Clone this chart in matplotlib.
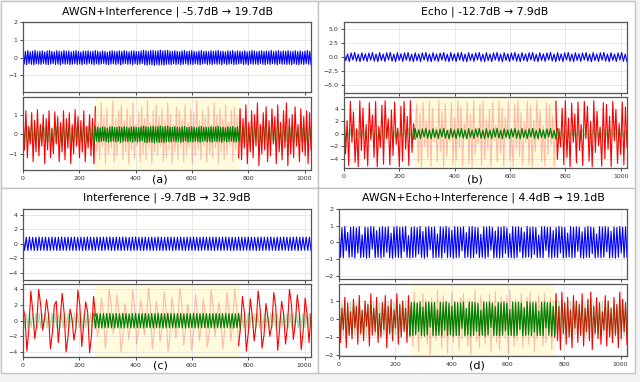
import numpy as np
import matplotlib
matplotlib.use('Agg')
import matplotlib.pyplot as plt
from matplotlib.patches import Rectangle

W, H = 640, 382

titles = ['AWGN+Interference | -5.7dB → 19.7dB', 'Echo | -12.7dB → 7.9dB',
          'Interference | -9.7dB → 32.9dB', 'AWGN+Echo+Interference | 4.4dB → 19.1dB']
labels = ['(a)', '(b)', '(c)', '(d)']
x_ticks = [0, 200, 400, 600, 800, 1000]
n_samples = 1024
span_lo, span_hi = 256, 768

# ---- signal extremes (peaks / troughs) ----
a_clean_hi = [0.38,0.35,0.40,0.33,0.37,0.41,0.34,0.36,0.39,0.32,
              0.38,0.40,0.35,0.33,0.39,0.37,0.34,0.41,0.36,0.38,
              0.33,0.37,0.40,0.35,0.32,0.38,0.36,0.39,0.34,0.37,
              0.40,0.36,0.33,0.38,0.35,0.31,0.37,0.39,0.34,0.36,
              0.38,0.35,0.40,0.36,0.33,0.37,0.39,0.35,0.34,0.38,
              0.42,0.39,0.36,0.40,0.41,0.37,0.39,0.42,0.38,0.40,
              0.41,0.37,0.35,0.39,0.36,0.34,0.38,0.40,0.35,0.37,
              0.39,0.36,0.33,0.38,0.40,0.35,0.37,0.34,0.39,0.36,
              0.38,0.41,0.35,0.37,0.33,0.39,0.36,0.40,0.34,0.38,
              0.37,0.35,0.39,0.33,0.36,0.40,0.38,0.34,0.37,0.39,
              0.35,0.38,0.36,0.41,0.34,0.37,0.39,0.35,0.38,0.36,
              0.40,0.34,0.37,0.39,0.35,0.38,0.33,0.37,0.40,0.36]
a_clean_lo = [-0.36,-0.40,-0.34,-0.38,-0.41,-0.35,-0.37,-0.39,-0.33,-0.38,
              -0.40,-0.36,-0.34,-0.39,-0.37,-0.41,-0.35,-0.38,-0.36,-0.40,
              -0.37,-0.34,-0.39,-0.36,-0.41,-0.35,-0.38,-0.33,-0.37,-0.40,
              -0.35,-0.39,-0.36,-0.34,-0.38,-0.40,-0.37,-0.35,-0.39,-0.36,
              -0.41,-0.37,-0.34,-0.38,-0.36,-0.40,-0.35,-0.39,-0.37,-0.33,
              -0.40,-0.43,-0.38,-0.41,-0.44,-0.39,-0.42,-0.40,-0.43,-0.38,
              -0.37,-0.40,-0.35,-0.39,-0.36,-0.41,-0.38,-0.34,-0.40,-0.37,
              -0.39,-0.35,-0.38,-0.41,-0.36,-0.34,-0.39,-0.37,-0.40,-0.35,
              -0.38,-0.36,-0.41,-0.34,-0.39,-0.37,-0.35,-0.40,-0.38,-0.36,
              -0.34,-0.39,-0.37,-0.41,-0.35,-0.38,-0.36,-0.40,-0.33,-0.38,
              -0.40,-0.36,-0.39,-0.34,-0.37,-0.41,-0.35,-0.38,-0.36,-0.39,
              -0.37,-0.40,-0.35,-0.38,-0.41,-0.36,-0.39,-0.34,-0.37,-0.40]
a_noisy_hi = [0.9,1.2,0.4,1.1,0.7,1.25,0.5,1.0,0.8,1.2,0.3,1.15,0.9,0.6,1.2,0.8,1.1,0.5,1.25,0.9,0.7,1.2,0.4,1.0,0.8,
              1.4,0.6,1.6,0.9,1.3,0.5,1.7,0.8,1.2,1.5,0.7,1.3,0.9,1.6,0.5,1.1,1.4,0.8,1.7,0.6,1.2,1.5,0.9,1.3,0.7,
              1.6,1.0,0.5,1.4,1.2,0.8,1.5,0.6,1.3,1.1,1.7,0.7,1.2,0.9,1.4,0.5,1.6,1.0,1.3,0.8,1.5,0.6,1.2,1.4,0.9,
              1.3,0.8,1.5,0.6,1.2,1.0,1.6,0.5,1.1,1.4,0.7,1.3,0.9,1.5,0.6,1.2,1.6,0.8,1.0,1.4,0.5,1.3,0.9,1.2,1.1]
a_noisy_lo = [-0.8,-1.2,-0.5,-1.4,-0.9,-1.1,-0.6,-1.5,-0.8,-1.2,-1.0,-0.5,-1.4,-0.9,-1.3,-0.7,-1.5,-1.0,-0.6,-1.2,-0.9,-1.4,-0.7,-1.1,-1.5,
              -0.9,-1.3,-0.6,-1.5,-1.0,-0.7,-1.4,-1.1,-0.5,-1.3,-0.9,-1.5,-0.8,-1.2,-0.6,-1.4,-1.0,-1.3,-0.7,-1.5,-0.9,-1.1,-0.6,-1.4,-1.2,
              -0.8,-1.5,-0.9,-1.3,-0.6,-1.4,-1.0,-0.7,-1.5,-1.1,-0.8,-1.3,-0.6,-1.4,-1.0,-1.2,-0.7,-1.5,-0.9,-1.3,-1.0,-0.6,-1.4,-0.8,-1.2,
              -1.3,-0.7,-1.5,-0.9,-1.2,-0.6,-1.6,-1.0,-0.8,-1.4,-1.1,-0.5,-1.5,-0.9,-1.3,-0.7,-1.6,-1.0,-1.2,-0.6,-1.4,-0.9,-1.1,-1.5,-0.8]

b_clean_hi = [0.82,0.60,0.78,0.85,0.55,0.80,0.62,0.76,0.84,0.57,
              0.83,0.58,0.79,0.86,0.54,0.81,0.63,0.77,0.85,0.56,
              0.80,0.61,0.78,0.84,0.58,0.82,0.59,0.75,0.86,0.55,
              0.83,0.62,0.79,0.85,0.57,0.81,0.60,0.77,0.84,0.56,
              0.82,0.58,0.78,0.86,0.55,0.80,0.63,0.76,0.85,0.57,
              0.83,0.60,0.79,0.84,0.54,0.81,0.61,0.77,0.86,0.56,
              0.82,0.59,0.78,0.85,0.58,0.80,0.62,0.76,0.84,0.55,
              0.83,0.60,0.79,0.86,0.57,0.81,0.58,0.77,0.85,0.56]
b_clean_lo = [-0.62,-0.78,-0.50,-0.70,-0.80,-0.58,-0.76,-0.52,-0.72,-0.79,
              -0.60,-0.77,-0.49,-0.71,-0.81,-0.57,-0.75,-0.53,-0.69,-0.80,
              -0.63,-0.78,-0.51,-0.72,-0.79,-0.59,-0.76,-0.50,-0.70,-0.81,
              -0.61,-0.77,-0.52,-0.71,-0.80,-0.58,-0.75,-0.49,-0.73,-0.79,
              -0.62,-0.78,-0.51,-0.70,-0.81,-0.57,-0.76,-0.53,-0.72,-0.80,
              -0.60,-0.77,-0.50,-0.71,-0.79,-0.59,-0.75,-0.52,-0.69,-0.81,
              -0.63,-0.78,-0.49,-0.72,-0.80,-0.58,-0.76,-0.51,-0.70,-0.79,
              -0.61,-0.77,-0.53,-0.71,-0.81,-0.57,-0.75,-0.50,-0.73,-0.80]
b_noisy_hi = [4.9,2.1,5.2,3.5,0.8,5.3,4.1,1.5,5.0,3.0,
              5.2,1.2,4.6,5.3,2.4,3.8,5.1,0.9,4.4,5.2,
              2.8,5.3,1.6,4.8,3.3,5.1,2.0,5.2,4.0,1.1,
              5.3,3.6,4.9,0.7,5.0,2.6,5.2,4.3,1.8,5.1,
              3.1,5.3,1.0,4.7,5.2,2.3,3.9,5.0,1.4,5.3,
              4.2,2.7,5.1,0.9,4.8,5.3,3.4,1.9,5.2,4.5,
              2.2,5.3,3.7,1.3,5.0,4.6,2.9,5.2,0.8,4.1,
              5.3,2.5,4.9,3.2,5.1,1.5,5.2,4.4,2.0,5.3,
              3.6,1.1,5.0,4.7,2.8,5.2,3.9,1.7,5.1,4.3]
b_noisy_lo = [-3.2,-5.1,-1.4,-4.6,-5.3,-2.7,-4.0,-5.2,-1.0,-3.8,
              -5.3,-2.2,-4.9,-0.8,-5.0,-3.5,-1.7,-5.3,-4.4,-2.5,
              -5.1,-3.0,-0.9,-4.7,-5.3,-2.0,-3.9,-5.2,-1.3,-4.5,
              -2.8,-5.3,-3.6,-1.1,-5.0,-4.2,-2.3,-5.2,-0.7,-4.8,
              -5.3,-3.3,-1.6,-5.1,-4.0,-2.6,-5.3,-1.2,-4.6,-3.1,
              -5.2,-0.9,-4.3,-5.3,-2.4,-3.7,-5.0,-1.5,-4.9,-5.3,
              -2.9,-1.0,-4.5,-5.2,-3.4,-1.8,-5.3,-4.1,-2.1,-5.0,
              -3.8,-5.3,-1.4,-4.7,-2.7,-5.1,-0.8,-4.4,-5.3,-3.0,
              -1.9,-5.2,-4.0,-2.5,-5.3,-1.1,-4.8,-3.3,-5.0,-2.2]

c_clean_hi = [0.92,0.90,0.93,0.89,0.91,0.94,0.90,0.92,0.88,0.93,
              0.91,0.89,0.94,0.90,0.92,0.91,0.93,0.88,0.92,0.90,
              0.94,0.91,0.89,0.93,0.90,0.92,0.91,0.94,0.89,0.92,
              0.90,0.93,0.91,0.88,0.92,0.94,0.90,0.91,0.93,0.89,
              0.92,0.90,0.94,0.91,0.89,0.93,0.92,0.90,0.91,0.94,
              0.88,0.92,0.90,0.93,0.91,0.89,0.94,0.92,0.90,0.91,
              0.93,0.89,0.92,0.94,0.90,0.91,0.88,0.93,0.92,0.90,
              0.94,0.91,0.89,0.92,0.93,0.90,0.91,0.94,0.88,0.92,
              0.90,0.93,0.91,0.89,0.92,0.94,0.90,0.91,0.93,0.92]
c_clean_lo = [-0.91,-0.93,-0.89,-0.92,-0.94,-0.90,-0.91,-0.93,-0.92,-0.88,
              -0.92,-0.94,-0.90,-0.91,-0.89,-0.93,-0.92,-0.90,-0.94,-0.91,
              -0.89,-0.92,-0.93,-0.90,-0.94,-0.91,-0.88,-0.92,-0.93,-0.90,
              -0.94,-0.91,-0.89,-0.93,-0.92,-0.90,-0.91,-0.94,-0.88,-0.92,
              -0.93,-0.90,-0.91,-0.94,-0.92,-0.89,-0.93,-0.91,-0.90,-0.92,
              -0.94,-0.91,-0.89,-0.92,-0.93,-0.90,-0.88,-0.93,-0.91,-0.94,
              -0.90,-0.92,-0.91,-0.89,-0.93,-0.94,-0.90,-0.92,-0.91,-0.88,
              -0.93,-0.90,-0.94,-0.91,-0.92,-0.89,-0.93,-0.90,-0.92,-0.94,
              -0.91,-0.89,-0.93,-0.92,-0.90,-0.94,-0.91,-0.88,-0.92,-0.93]
c_noisy = [1.8,0.5,-3.9,-1.0, 3.8,1.2,-2.3,-0.5, 4.0,2.1,-1.2,0.3, 2.7,0.8,-3.6,-1.5,
           2.0,2.5,-2.8,0.2, 3.5,1.0,-4.0,-2.0, 1.5,0.3,-2.5,-1.0, 3.9,2.0,-3.3,-0.4,
           2.4,1.1,-4.1,-1.8, 3.1,0.6,-2.0,-0.7,
           2.9,1.0,-3.5,-0.8, 4.0,2.2,-1.7,0.4, 3.3,0.9,-4.0,-2.1, 2.2,0.5,-2.4,-0.3,
           3.9,1.8,-3.0,-1.0, 2.6,1.2,-1.8,0.2, 4.1,2.0,-3.6,-1.4, 2.5,0.7,-2.7,-0.6,
           3.7,1.5,-3.9,-2.0, 3.0,1.0,-2.2,-0.5, 4.1,2.3,-3.1,-1.2, 2.1,0.6,-3.8,-1.6,
           3.4,1.3,-2.5,-0.4, 2.8,0.9,-3.4,-1.8, 3.9,2.0,-2.0,0.1, 2.3,0.5,-3.7,-1.1,
           3.6,1.4,-2.6,-0.6, 4.0,1.9,-3.2,-0.9,
           3.1,1.0,-3.9,-1.5, 2.8,0.7,-2.6,-0.4, 3.8,1.6,-3.5,-1.9, 2.2,0.4,-2.0,-0.6,
           3.6,1.8,-3.8,-1.0, 2.5,0.9,-3.0,-0.7, 4.0,2.1,-2.4,-0.3, 3.3,1.1,-3.7,-1.4,
           2.9,0.8,-2.8,0.9]

d_clean_hi = [0.92,0.88,0.95,0.60,0.90,0.93,0.87,0.94,0.45,0.91,
              0.89,0.95,0.92,0.70,0.88,0.94,0.90,0.93,0.55,0.92,
              0.95,0.89,0.91,0.94,0.40,0.90,0.93,0.88,0.95,0.65,
              0.91,0.94,0.89,0.92,0.50,0.93,0.90,0.95,0.88,0.72,
              0.94,0.91,0.89,0.93,0.58,0.92,0.95,0.90,0.88,0.48,
              0.93,0.91,0.94,0.89,0.68,0.92,0.90,0.95,0.87,0.52,
              0.94,0.91,0.93,0.88,0.62,0.95,0.90,0.92,0.89,0.44,
              0.93,0.94,0.90,0.91,0.70,0.88,0.95,0.92,0.89,0.56,
              0.94,0.90,0.93,0.91,0.64,0.89,0.95,0.92,0.88,0.50,
              0.93,0.91,0.94,0.90,0.67,0.92,0.89,0.95,0.91,0.93]
d_clean_lo = [-0.90,-0.93,-0.50,-0.91,-0.88,-0.94,-0.65,-0.92,-0.89,-0.95,
              -0.91,-0.40,-0.93,-0.90,-0.94,-0.88,-0.60,-0.92,-0.95,-0.89,
              -0.91,-0.93,-0.55,-0.90,-0.94,-0.92,-0.88,-0.70,-0.91,-0.95,
              -0.89,-0.45,-0.93,-0.92,-0.90,-0.94,-0.62,-0.91,-0.88,-0.95,
              -0.92,-0.90,-0.52,-0.93,-0.89,-0.94,-0.91,-0.68,-0.92,-0.90,
              -0.95,-0.88,-0.47,-0.93,-0.91,-0.94,-0.90,-0.66,-0.89,-0.92,
              -0.95,-0.91,-0.58,-0.93,-0.90,-0.88,-0.94,-0.72,-0.92,-0.91,
              -0.93,-0.49,-0.90,-0.95,-0.89,-0.92,-0.63,-0.94,-0.91,-0.88,
              -0.93,-0.90,-0.54,-0.92,-0.95,-0.89,-0.91,-0.69,-0.94,-0.90,
              -0.92,-0.88,-0.57,-0.93,-0.91,-0.95,-0.90,-0.64,-0.92,-0.89]
d_noisy_hi = [1.5,0.6,1.2,0.9,0.4,1.1,0.7,1.3,0.5,1.0,
              0.8,1.4,0.6,1.2,0.3,0.9,1.3,0.7,1.1,0.5,
              1.4,0.8,1.0,0.6,1.3,
              0.7,1.5,0.9,0.4,1.4,1.1,0.6,1.2,0.8,1.6,
              0.5,1.3,1.0,0.7,1.5,0.9,0.4,1.2,1.4,0.6,
              1.1,0.8,1.6,0.5,1.3,1.0,0.7,1.4,0.9,1.5,
              0.6,1.2,0.8,1.3,1.6,0.5,1.1,0.9,1.4,0.7,
              1.2,1.5,0.6,1.0,1.3,0.8,1.4,0.5,1.2,1.0,
              1.4,0.7,1.5,0.9,1.2,0.5,1.3,1.0,0.8,1.4,
              0.6,1.1,1.5,0.7,1.2,0.9,0.4,1.3,1.0,0.6,
              1.2,0.8,1.5,1.1,0.9]
d_noisy_lo = [-1.3,-0.6,-1.6,-0.9,-1.1,-0.5,-1.4,-0.8,-1.2,-0.4,
              -1.5,-0.9,-0.7,-1.3,-1.0,-0.6,-1.6,-0.8,-1.2,-0.5,
              -1.4,-1.0,-0.7,-1.3,-0.9,
              -1.5,-0.8,-1.8,-1.1,-0.6,-1.4,-2.0,-0.9,-1.2,-0.7,
              -1.6,-1.0,-1.9,-0.8,-1.3,-0.6,-1.7,-1.1,-0.9,-1.5,
              -2.0,-0.7,-1.2,-1.6,-0.8,-1.4,-1.0,-1.8,-0.6,-1.3,
              -1.7,-0.9,-1.1,-1.9,-0.7,-1.5,-1.2,-0.8,-1.6,-1.0,
              -1.4,-0.6,-1.8,-1.1,-0.9,-1.5,-1.3,-0.7,-1.7,-1.0,
              -1.2,-1.7,-0.8,-1.4,-1.0,-1.6,-0.5,-1.3,-0.9,-1.5,
              -0.7,-1.2,-1.7,-0.8,-1.1,-1.4,-0.6,-1.5,-1.0,-1.3,
              -0.9,-1.6,-1.1,-0.7,-1.4]


def zigzag(hi, lo):
    n = min(len(hi), len(lo))
    out = np.empty(2 * n)
    out[0::2] = hi[:n]
    out[1::2] = lo[:n]
    return out


panels = [
    dict(clean=zigzag(a_clean_hi, a_clean_lo), noisy=zigzag(a_noisy_hi, a_noisy_lo),
         top_px=(23, 22, 311, 92), bot_px=(23, 97, 311, 170),
         top_ylim=(-1.95, 2.02), bot_ylim=(-1.82, 1.9),
         top_yticks=[-1, 0, 1, 2], bot_yticks=[-1, 0, 1],
         title_xy=(167, 12), label_xy=(160, 180)),
    dict(clean=zigzag(b_clean_hi, b_clean_lo), noisy=zigzag(b_noisy_hi, b_noisy_lo),
         top_px=(344, 22, 627, 93), bot_px=(344, 97, 627, 168),
         top_ylim=(-6.4, 6.3), bot_ylim=(-5.5, 5.9),
         top_yticks=[-5, -2.5, 0, 2.5, 5], bot_yticks=[-4, -2, 0, 2, 4],
         title_xy=(485, 12), label_xy=(475, 180)),
    dict(clean=zigzag(c_clean_hi, c_clean_lo), noisy=np.array(c_noisy),
         top_px=(23, 209, 311, 280), bot_px=(23, 284, 311, 357),
         top_ylim=(-5.0, 4.8), bot_ylim=(-4.65, 4.7),
         top_yticks=[-4, -2, 0, 2, 4], bot_yticks=[-4, -2, 0, 2, 4],
         title_xy=(167, 198), label_xy=(160, 365)),
    dict(clean=zigzag(d_clean_hi, d_clean_lo), noisy=zigzag(d_noisy_hi, d_noisy_lo),
         top_px=(339, 209, 627, 279), bot_px=(339, 284, 627, 356),
         top_ylim=(-2.2, 2.0), bot_ylim=(-2.05, 1.94),
         top_yticks=[-2, -1, 0, 1, 2], bot_yticks=[-2, -1, 0, 1],
         title_xy=(483, 198), label_xy=(477, 365)),
]

fig = plt.figure(figsize=(W / 100, H / 100), dpi=100)
fig.patch.set_facecolor('#f3f3f3')

# panel frames (white boxes with light gray edge)
for (x0, y0, x1, y1) in [(0.5, 0.5, 318, 188), (318, 0.5, 635, 188), (0.5, 188, 318, 373), (318, 188, 635, 373)]:
    fig.add_artist(Rectangle((x0 / W, 1 - y1 / H), (x1 - x0) / W, (y1 - y0) / H,
                             transform=fig.transFigure, fc='white', ec='#c4c4c4', lw=1.0, zorder=-1))


def px_axes(box):
    l, t, r, b = box
    return fig.add_axes([l / W, 1 - b / H, (r - l) / W, (b - t) / H])


def style(ax, ylim, yticks, show_x):
    ax.set_xlim(0, 1023)
    ax.set_ylim(*ylim)
    ax.set_xticks(x_ticks)
    ax.set_yticks(yticks)
    ax.grid(True, color='#e4e4e4', lw=0.6)
    ax.set_axisbelow(True)
    for s in ax.spines.values():
        s.set_color('#555555')
        s.set_linewidth(0.9)
    ax.tick_params(labelsize=4.5, length=2.5, width=0.6, pad=1.5, colors='#333333')
    if not show_x:
        ax.tick_params(labelbottom=False)


def pieces(x, y):
    i0 = np.searchsorted(x, span_lo)
    i1 = np.searchsorted(x, span_hi)
    return [(x[:i0 + 1], y[:i0 + 1], False), (x[max(i0 - 1, 0):i1 + 1], y[max(i0 - 1, 0):i1 + 1], True),
            (x[i1 - 1:], y[i1 - 1:], False)]


for p, title, lab in zip(panels, titles, labels):
    clean = p['clean']
    noisy = p['noisy']
    xc = np.linspace(0, n_samples - 1, len(clean))
    xn = np.linspace(0, n_samples - 1, len(noisy))

    ax1 = px_axes(p['top_px'])
    ax1.plot(xc, clean, color='blue', lw=0.8)
    style(ax1, p['top_ylim'], p['top_yticks'], False)

    ax2 = px_axes(p['bot_px'])
    ax2.axvspan(span_lo, span_hi, color='#fffbdc', zorder=0)
    for xs, ys, inside in pieces(xn, noisy):
        ax2.plot(xs, ys, color='red', lw=0.8, alpha=0.25 if inside else 1.0)
    for xs, ys, inside in pieces(xc, clean):
        ax2.plot(xs, ys, color='green', lw=0.9, alpha=1.0 if inside else 0.3)
    style(ax2, p['bot_ylim'], p['bot_yticks'], True)

    fig.text(p['title_xy'][0] / W, 1 - p['title_xy'][1] / H, title,
             ha='center', va='center', fontsize=7.8)
    fig.text(p['label_xy'][0] / W, 1 - p['label_xy'][1] / H, lab,
             ha='center', va='center', fontsize=8)

fig.savefig('out.png', dpi=100)
